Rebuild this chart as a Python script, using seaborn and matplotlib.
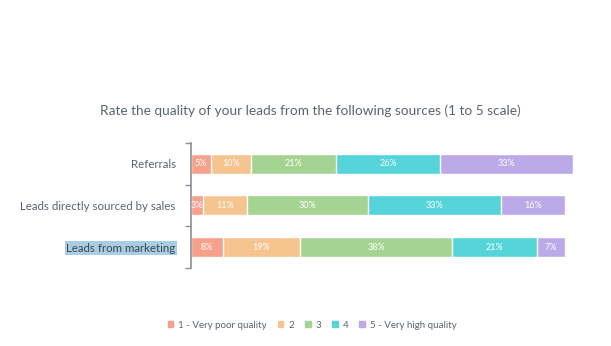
import matplotlib
matplotlib.use("Agg")
import matplotlib.pyplot as plt
import seaborn as sns
import pandas as pd
import numpy as np

sources = ["Referrals", "Leads directly sourced by sales", "Leads from marketing"]
ratings = ["1 - Very poor quality", "2", "3", "4", "5 - Very high quality"]
r1 = [5, 3, 8]
r2 = [10, 11, 19]
r3 = [21, 30, 38]
r4 = [26, 33, 21]
r5 = [33, 16, 7]
colors = ["#f7a08c", "#f5c48f", "#a5d391", "#55d4da", "#bca9e8"]

sns.set_theme(style="white")
plt.rcParams["font.family"] = ["Lato", "DejaVu Sans"]

series = [r1, r2, r3, r4, r5]
vals = np.array(series, dtype=float)
cum = np.cumsum(vals, axis=0)

fig = plt.figure(figsize=(6.11, 3.46), dpi=100)
ax = fig.add_axes([191 / 611, 1 - 268 / 346, 402 / 611, 125 / 346])

# draw cumulative bars largest first so each segment shows
for i in range(len(ratings) - 1, -1, -1):
    df = pd.DataFrame({"source": sources, "value": cum[i]})
    sns.barplot(data=df, x="value", y="source", orient="h", color=colors[i],
                width=0.48, edgecolor="white", linewidth=1.0, ax=ax,
                saturation=1, legend=False)

for i in range(len(ratings)):
    for j in range(len(sources)):
        center = cum[i][j] - vals[i][j] / 2
        ax.text(center, j, f"{int(vals[i][j])}%", ha="center", va="center",
                color="white", fontsize=6.5)

ax.set_xlim(0, 100)
ax.set_ylim(2.5, -0.5)
ax.set_xlabel("")
ax.set_ylabel("")
ax.set_xticks([])
ax.set_yticks([0, 1, 2])
ax.set_yticklabels(sources, fontsize=8.3, color="#5c6470")
ax.set_yticks([-0.5, 0.5, 1.5, 2.5], minor=True)
ax.tick_params(axis="y", which="major", length=0, pad=11)
ax.tick_params(axis="y", which="minor", length=4, width=1, color="#8a8f96", left=True, direction="out")
for s in ["top", "right", "bottom"]:
    ax.spines[s].set_visible(False)
ax.spines["left"].set_color("#8a8f96")
ax.spines["left"].set_linewidth(1.2)
if ax.get_legend() is not None:
    ax.get_legend().remove()

lbl = ax.get_yticklabels()[2]
lbl.set_bbox(dict(facecolor="#a9cde3", edgecolor="none", pad=1))
lbl.set_color("#3d4652")

fig.text(310 / 611, 1 - 111 / 346, "Rate the quality of your leads from the following sources (1 to 5 scale)",
         ha="center", va="center", fontsize=9.8, color="#5c6470")

handles = [plt.Rectangle((0, 0), 1, 1, color=c) for c in colors]
fig.legend(handles, ratings, loc="center", bbox_to_anchor=(312 / 611, 1 - 325 / 346), ncol=5,
           frameon=False, fontsize=7, handlelength=0.6, handleheight=0.6,
           handletextpad=0.5, columnspacing=1.1, labelcolor="#5c6470")

fig.savefig("out.png", dpi=100, facecolor="white")
